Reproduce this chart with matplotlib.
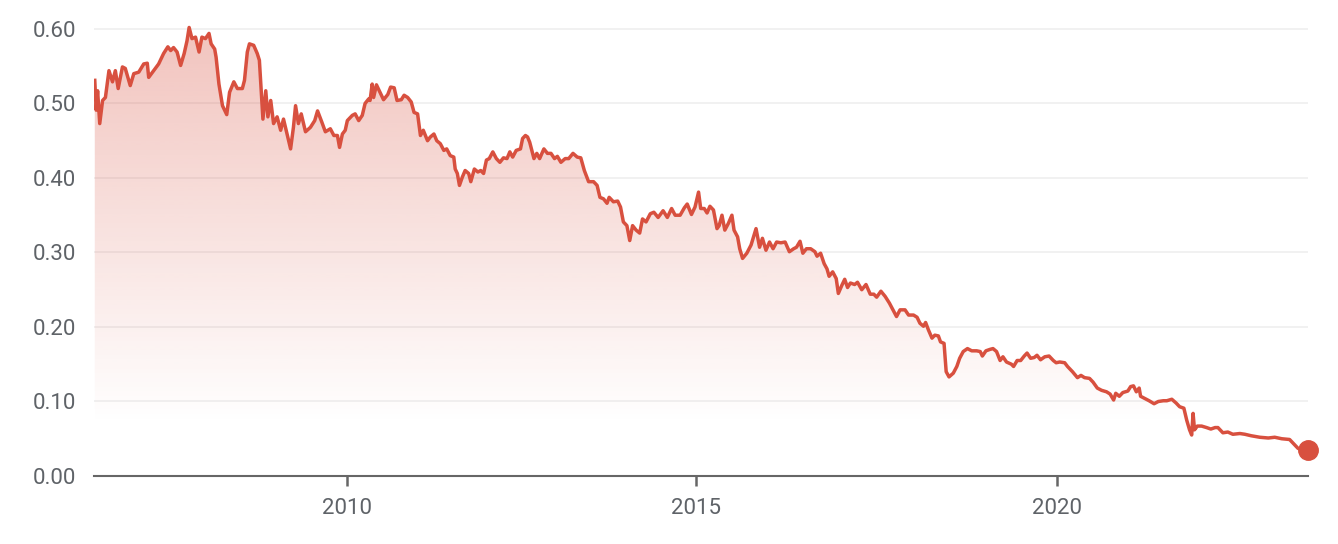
import numpy as np
import matplotlib.pyplot as plt
from matplotlib.colors import to_rgb

# Valores (año decimal, valor)
years = [
    2006.44, 2006.46, 2006.48, 2006.51, 2006.55, 2006.59, 2006.64, 2006.69, 2006.73, 2006.77,
    2006.83, 2006.87, 2006.94, 2006.99, 2007.06, 2007.13, 2007.18, 2007.20, 2007.27, 2007.34,
    2007.41, 2007.47, 2007.51, 2007.55, 2007.60, 2007.65, 2007.70, 2007.74, 2007.77, 2007.81,
    2007.86, 2007.91, 2007.95, 2008.00, 2008.05, 2008.08, 2008.13, 2008.15, 2008.19, 2008.24,
    2008.30, 2008.34, 2008.40, 2008.45, 2008.52, 2008.55, 2008.59, 2008.62, 2008.68, 2008.73,
    2008.76, 2008.78, 2008.81, 2008.85, 2008.88, 2008.92, 2008.96, 2009.01, 2009.06, 2009.10,
    2009.15, 2009.20, 2009.24, 2009.27, 2009.31, 2009.35, 2009.41, 2009.48, 2009.54, 2009.58,
    2009.64, 2009.69, 2009.76, 2009.81, 2009.86, 2009.89, 2009.93, 2009.97, 2010.00, 2010.07,
    2010.11, 2010.16, 2010.21, 2010.25, 2010.30, 2010.32, 2010.35, 2010.37, 2010.41, 2010.45,
    2010.51, 2010.57, 2010.61, 2010.66, 2010.70, 2010.76, 2010.80, 2010.85, 2010.90, 2010.94,
    2010.99, 2011.03, 2011.07, 2011.13, 2011.17, 2011.22, 2011.26, 2011.31, 2011.36, 2011.40,
    2011.45, 2011.50, 2011.52, 2011.55, 2011.58, 2011.62, 2011.66, 2011.71, 2011.74, 2011.79,
    2011.84, 2011.88, 2011.92, 2011.96, 2012.00, 2012.05, 2012.10, 2012.15, 2012.20, 2012.25,
    2012.29, 2012.33, 2012.38, 2012.44, 2012.47, 2012.51, 2012.54, 2012.57, 2012.60, 2012.63,
    2012.67, 2012.71, 2012.77, 2012.82, 2012.87, 2012.92, 2012.96, 2013.01, 2013.07, 2013.12,
    2013.18, 2013.24, 2013.29, 2013.34, 2013.40, 2013.47, 2013.52, 2013.56, 2013.61, 2013.66,
    2013.69, 2013.75, 2013.81, 2013.85, 2013.89, 2013.94, 2013.98, 2014.02, 2014.07, 2014.12,
    2014.16, 2014.21, 2014.27, 2014.32, 2014.38, 2014.45, 2014.51, 2014.57, 2014.62, 2014.69,
    2014.75, 2014.79, 2014.85, 2014.90, 2014.95, 2014.98, 2015.03, 2015.07, 2015.11, 2015.16,
    2015.21, 2015.24, 2015.28, 2015.32, 2015.37, 2015.42, 2015.45, 2015.50, 2015.53, 2015.57,
    2015.63, 2015.69, 2015.76, 2015.81, 2015.85, 2015.90, 2015.95, 2016.00, 2016.05, 2016.11,
    2016.17, 2016.23, 2016.29, 2016.33, 2016.38, 2016.42, 2016.47, 2016.53, 2016.59, 2016.62,
    2016.67, 2016.72, 2016.76, 2016.79, 2016.84, 2016.89, 2016.92, 2016.97, 2017.01, 2017.05,
    2017.09, 2017.15, 2017.19, 2017.25, 2017.31, 2017.37, 2017.42, 2017.46, 2017.52, 2017.58,
    2017.64, 2017.69, 2017.74, 2017.79, 2017.86, 2017.91, 2017.98, 2018.03, 2018.07, 2018.12,
    2018.15, 2018.19, 2018.24, 2018.28, 2018.33, 2018.36, 2018.41, 2018.44, 2018.48, 2018.54,
    2018.59, 2018.63, 2018.68, 2018.74, 2018.80, 2018.87, 2018.92, 2018.95, 2019.00, 2019.06,
    2019.10, 2019.15, 2019.20, 2019.24, 2019.29, 2019.36, 2019.39, 2019.44, 2019.49, 2019.54,
    2019.58, 2019.63, 2019.68, 2019.72, 2019.77, 2019.83, 2019.89, 2019.95, 2019.99, 2020.04,
    2020.11, 2020.15, 2020.22, 2020.29, 2020.34, 2020.39, 2020.46, 2020.51, 2020.57, 2020.63,
    2020.70, 2020.75, 2020.80, 2020.83, 2020.88, 2020.93, 2021.00, 2021.04, 2021.08, 2021.12,
    2021.16, 2021.18, 2021.24, 2021.30, 2021.37, 2021.43, 2021.50, 2021.55, 2021.62, 2021.68,
    2021.73, 2021.79, 2021.83, 2021.87, 2021.90, 2021.92, 2021.94, 2021.98, 2022.04, 2022.11,
    2022.17, 2022.23, 2022.27, 2022.34, 2022.41, 2022.48, 2022.58, 2022.65, 2022.74, 2022.86,
    2022.98, 2023.07, 2023.17, 2023.28, 2023.33, 2023.40, 2023.54,
]
values = [
    0.531, 0.491, 0.517, 0.473, 0.504, 0.508, 0.544, 0.529, 0.544, 0.520,
    0.549, 0.547, 0.524, 0.540, 0.542, 0.553, 0.554, 0.535, 0.544, 0.553,
    0.567, 0.576, 0.571, 0.575, 0.569, 0.551, 0.567, 0.584, 0.602, 0.587,
    0.589, 0.569, 0.589, 0.587, 0.594, 0.580, 0.573, 0.562, 0.526, 0.497,
    0.485, 0.515, 0.529, 0.520, 0.520, 0.531, 0.569, 0.580, 0.578, 0.567,
    0.558, 0.526, 0.479, 0.517, 0.482, 0.504, 0.473, 0.482, 0.464, 0.479,
    0.459, 0.439, 0.468, 0.497, 0.473, 0.486, 0.462, 0.468, 0.477, 0.490,
    0.475, 0.462, 0.466, 0.457, 0.457, 0.441, 0.459, 0.464, 0.477, 0.484,
    0.486, 0.477, 0.484, 0.500, 0.506, 0.504, 0.526, 0.508, 0.525, 0.517,
    0.505, 0.512, 0.522, 0.521, 0.504, 0.505, 0.511, 0.508, 0.502, 0.488,
    0.486, 0.457, 0.464, 0.450, 0.455, 0.459, 0.450, 0.446, 0.437, 0.439,
    0.430, 0.428, 0.412, 0.406, 0.390, 0.401, 0.410, 0.406, 0.395, 0.412,
    0.408, 0.410, 0.406, 0.424, 0.426, 0.435, 0.426, 0.421, 0.427, 0.426,
    0.435, 0.428, 0.437, 0.439, 0.453, 0.457, 0.455, 0.448, 0.437, 0.426,
    0.433, 0.426, 0.439, 0.433, 0.433, 0.426, 0.429, 0.421, 0.426, 0.426,
    0.433, 0.428, 0.427, 0.410, 0.395, 0.395, 0.390, 0.374, 0.372, 0.366,
    0.374, 0.368, 0.369, 0.361, 0.341, 0.336, 0.316, 0.336, 0.330, 0.326,
    0.345, 0.341, 0.352, 0.354, 0.347, 0.356, 0.347, 0.359, 0.350, 0.350,
    0.360, 0.365, 0.351, 0.361, 0.381, 0.359, 0.359, 0.353, 0.362, 0.357,
    0.332, 0.336, 0.350, 0.330, 0.339, 0.350, 0.330, 0.321, 0.305, 0.292,
    0.299, 0.310, 0.332, 0.307, 0.319, 0.303, 0.314, 0.305, 0.314, 0.313,
    0.314, 0.301, 0.305, 0.307, 0.315, 0.299, 0.305, 0.305, 0.301, 0.295,
    0.299, 0.285, 0.278, 0.268, 0.274, 0.265, 0.245, 0.256, 0.264, 0.253,
    0.259, 0.257, 0.260, 0.250, 0.257, 0.244, 0.244, 0.240, 0.248, 0.241,
    0.232, 0.223, 0.214, 0.223, 0.223, 0.216, 0.216, 0.213, 0.205, 0.201,
    0.206, 0.196, 0.185, 0.189, 0.188, 0.180, 0.178, 0.140, 0.133, 0.138,
    0.147, 0.158, 0.167, 0.171, 0.168, 0.168, 0.167, 0.161, 0.168, 0.170,
    0.171, 0.167, 0.155, 0.160, 0.153, 0.150, 0.147, 0.155, 0.155, 0.161,
    0.165, 0.158, 0.159, 0.162, 0.156, 0.160, 0.161, 0.155, 0.152, 0.153,
    0.152, 0.147, 0.140, 0.132, 0.135, 0.132, 0.131, 0.126, 0.118, 0.115,
    0.113, 0.110, 0.102, 0.111, 0.107, 0.112, 0.114, 0.120, 0.121, 0.113,
    0.118, 0.107, 0.104, 0.101, 0.097, 0.100, 0.101, 0.101, 0.103, 0.098,
    0.093, 0.091, 0.075, 0.062, 0.055, 0.084, 0.062, 0.067, 0.067, 0.065,
    0.063, 0.065, 0.065, 0.058, 0.059, 0.056, 0.057, 0.056, 0.054, 0.052,
    0.051, 0.052, 0.050, 0.049, 0.044, 0.037, 0.035,
]

y_ticks = [0.0, 0.1, 0.2, 0.3, 0.4, 0.5, 0.6]
# posiciones de las marcas del eje x tal como aparecen en el gráfico
x_ticks = [2010.0, 2014.92, 2020.0]
x_labels = ['2010', '2015', '2020']

line_color = '#d8503f'
text_color = '#5f6368'

plt.rcParams['font.family'] = ['Roboto', 'DejaVu Sans']

fig = plt.figure(figsize=(13.38, 5.44), dpi=100)
ax = fig.add_axes([0.0703, 0.125, 0.9073, 0.8355])

x0, x1 = 2006.43, 2023.54
y0, y1 = 0.0, 0.61

# relleno con degradado bajo la curva
poly = ax.fill_between(years, values, 0, color='none', lw=0)
n = 256
lev = np.linspace(0, 0.6, n)
rgba = np.zeros((n, 1, 4))
rgba[..., :3] = to_rgb(line_color)
rgba[..., 3] = (0.34 * np.clip((lev - 0.07) / 0.53, 0, 1))[:, None]
im = ax.imshow(rgba, extent=[x0, x1, 0, 0.6], origin='lower', aspect='auto',
               interpolation='bilinear', zorder=1)
im.set_clip_path(poly.get_paths()[0], transform=ax.transData)

ax.plot(years, values, color=line_color, lw=2.5, zorder=3, solid_joinstyle='round')
ax.plot(years[-1], values[-1], 'o', color=line_color, ms=14, zorder=4, clip_on=False)

ax.set_xlim(x0, x1)
ax.set_ylim(y0, y1)

ax.set_yticks(y_ticks)
ax.set_yticklabels([f"{v:.2f}" for v in y_ticks])
ax.set_xticks(x_ticks)
ax.set_xticklabels(x_labels)

for t in y_ticks[1:]:
    ax.axhline(t, color='#efefef', lw=1.2, zorder=0)

for s in ['top', 'right', 'left']:
    ax.spines[s].set_visible(False)
ax.spines['bottom'].set_color('#666666')
ax.spines['bottom'].set_linewidth(1.5)
ax.spines['bottom'].set_zorder(5)

ax.tick_params(axis='y', length=0, pad=13, labelsize=16, labelcolor=text_color)
ax.tick_params(axis='x', length=7, width=1.8, color='#666666', pad=9,
               labelsize=16, labelcolor=text_color)

fig.savefig('out.png', dpi=100, facecolor='white')
